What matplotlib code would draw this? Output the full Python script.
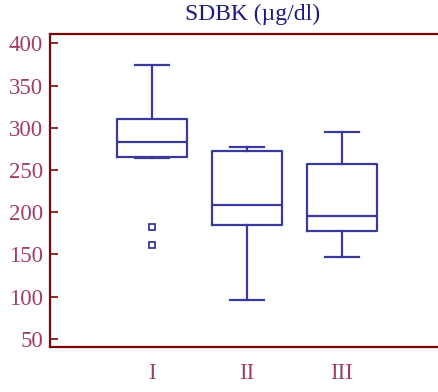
import matplotlib.pyplot as plt

# grupos y estadísticos de cada caja (µg/dl)
groups = ["I", "II", "III"]
whislo = [264, 96, 147]
q1 = [266, 185, 178]
med = [283, 209, 196]
q3 = [310, 273, 257]
whishi = [375, 277, 295]
outliers = [[183, 161], [], []]

box_color = "#3a3a9c"
frame_color = "#7a0808"
label_color = "#a03c6a"

plt.rcParams["font.family"] = ["Liberation Serif", "DejaVu Serif"]

fig = plt.figure(figsize=(4.39, 3.92), dpi=100)
ax = fig.add_axes([0.114, 0.116, 0.886, 0.797])

stats = []
for i, g in enumerate(groups):
    stats.append({"label": g, "whislo": whislo[i], "q1": q1[i], "med": med[i],
                  "q3": q3[i], "whishi": whishi[i], "fliers": outliers[i]})

line = dict(color=box_color, linewidth=1.6)
ax.bxp(stats, positions=[1, 2, 3], widths=0.74, capwidths=0.36,
       boxprops=line, medianprops=line, whiskerprops=line, capprops=line,
       flierprops=dict(marker="s", markersize=4, markerfacecolor="white",
                       markeredgecolor=box_color, markeredgewidth=1.3))

ax.set_xlim(-0.07, 4.02)
ax.set_ylim(41, 411)
ax.set_yticks([50, 100, 150, 200, 250, 300, 350, 400])

ax.spines["right"].set_visible(False)
for s in ["left", "top", "bottom"]:
    ax.spines[s].set_color(frame_color)
    ax.spines[s].set_linewidth(1.6)

ax.tick_params(axis="y", direction="in", length=6, width=1.2, color=frame_color,
               labelcolor=label_color, labelsize=16.5, pad=5)
ax.tick_params(axis="x", length=0, labelcolor=label_color, labelsize=16.5, pad=12)

ax.set_title("SDBK (µg/dl)", color="#1a1a80", fontsize=17, pad=10, x=0.52)

fig.savefig("out.png", dpi=100)
